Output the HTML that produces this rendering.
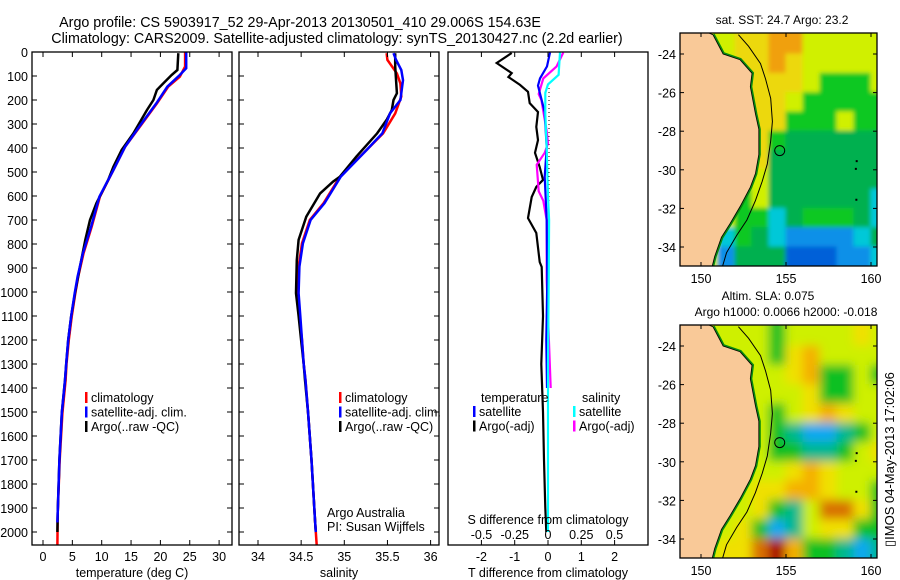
<!DOCTYPE html>
<html><head><meta charset="utf-8">
<style>
html,body{margin:0;padding:0;background:#fff;}
svg{display:block;font-family:"Liberation Sans",sans-serif;}
text{fill:#000;}
</style></head>
<body>
<svg id="fig" width="900" height="580" viewBox="0 0 900 580" xmlns="http://www.w3.org/2000/svg">
<defs>
<filter id="blurA" x="-5%" y="-5%" width="110%" height="110%"><feGaussianBlur stdDeviation="2"/></filter>
<filter id="blurB" x="-5%" y="-5%" width="110%" height="110%"><feGaussianBlur stdDeviation="5"/></filter>
</defs>
<text x="300" y="27" font-size="14.3" text-anchor="middle">Argo profile: CS 5903917_52 29-Apr-2013 20130501_410 29.006S 154.63E</text>
<text x="337" y="43" font-size="14.3" text-anchor="middle">Climatology: CARS2009. Satellite-adjusted climatology: synTS_20130427.nc (2.2d earlier)</text>
<g id="g1"></g>
<g id="g2"></g>
<g id="g3"></g>
<g id="g4"></g>
<g id="g5"></g>
<text transform="translate(894,547) rotate(-90)" font-size="13">▯IMOS 04-May-2013 17:02:06</text>
</svg>
<script>
// ---- profile data (depth m) ----
const tArgoD = [5,75,96,131,158,200,242,339,408,478,533,630,700,783,894,1005,1100,1200,1300,1367,1504,1700,1922,2000];
const tArgoV = [23.05,22.9,21.9,20.5,19.4,18.8,17.7,15.4,13.4,12.0,11.1,9.1,8.0,7.2,6.3,5.45,4.8,4.3,3.95,3.75,3.2,2.8,2.5,2.45];
const tClimD = [0,61,103,144,214,311,394,492,603,728,839,936,1005,1100,1200,1300,1367,1504,1700,1922,2054];
const tClimV = [24.2,24.2,23.3,21.35,19.4,16.5,14.0,12.0,9.7,8.3,6.9,6.0,5.5,4.9,4.4,4.0,3.85,3.3,2.85,2.5,2.45];
const tSatD = [0,68,96,144,214,311,394,492,603,728,839,936,1005,1100,1200,1300,1367,1504,1700,1922,1960];
const tSatV = [24.4,24.4,23.3,21.2,19.3,16.4,14.0,12.0,9.6,8.2,6.8,5.9,5.4,4.8,4.3,3.95,3.75,3.2,2.8,2.5,2.45];
const sArgoD = [5,61,172,200,242,283,339,436,519,540,589,686,783,867,1005,1100,1200,1300,1367,1504,1700,1950,2000];
const sArgoV = [35.59,35.59,35.61,35.57,35.55,35.49,35.38,35.14,34.95,34.87,34.72,34.56,34.47,34.45,34.44,34.47,34.5,34.53,34.545,34.58,34.62,34.66,34.67];
const sClimD = [5,33,89,131,186,256,339,408,519,630,700,797,894,1005,1100,1200,1300,1367,1504,1700,1950,2054];
const sClimV = [35.49,35.5,35.61,35.65,35.66,35.59,35.45,35.26,34.95,34.76,34.6,34.51,34.47,34.46,34.48,34.51,34.53,34.55,34.58,34.62,34.66,34.68];
const sSatD = [5,33,75,117,200,256,339,408,519,630,700,797,894,1005,1100,1200,1300,1367,1504,1700,1950,2000];
const sSatV = [35.57,35.6,35.66,35.68,35.65,35.53,35.44,35.26,34.96,34.77,34.61,34.52,34.48,34.47,34.49,34.51,34.53,34.55,34.58,34.62,34.66,34.67];
// differences
const dTArgoD = [4,46,88,104,137,166,213,250,312,367,420,479,533,562,604,692,754,875,896,1100,1300,1500,1700,1900,2000];
const dTArgoV = [-1.09,-1.54,-1.09,-1.19,-0.84,-0.6,-0.55,-0.3,-0.35,-0.3,-0.39,-0.25,-0.15,-0.35,-0.49,-0.6,-0.35,-0.25,-0.19,-0.15,-0.2,-0.15,-0.12,-0.08,-0.05];
const dTSatD = [2,60,110,140,250,400,520,700,950,1200,1400];
const dTSatV = [0.06,-0.03,-0.24,-0.3,-0.1,-0.04,-0.1,-0.04,-0.02,-0.05,-0.03];
const dSArgoD = [2,60,110,175,200,330,380,420,470,580,620,700,950,1100,1400];
const dSArgoV = [0.115,0.065,-0.035,-0.07,-0.05,-0.01,0.0,-0.025,-0.085,-0.07,-0.035,-0.01,-0.01,0.0,0.02];
const dSSatD = [2,95,135,170,260,400,600,700,950,1300,1700,2000];
const dSSatV = [0.09,0.08,0.0,-0.02,-0.02,-0.01,0.0,0.008,0.005,0.0,0.0,0.0];
const tTicks = [0,5,10,15,20,25,30];
const sTicks = [34,34.5,35,35.5,36];
const sTickLabels = ["34","34.5","35","35.5","36"];
const dTTicks = [-2,-1,0,1,2];
const dSTicks = [-0.5,-0.25,0,0.25,0.5];
const dSTickLabels = ["-0.5","-0.25","0","0.25","0.5"];
const depthTicks = [0,100,200,300,400,500,600,700,800,900,1000,1100,1200,1300,1400,1500,1600,1700,1800,1900,2000];
// ---- map data: rows lat -23..-34 (1 deg), cols lon 149..160 ----
const sstGrid = [
 "LLLYYOOLLLLL","LLLYYOYLLLLL","LLLYYYYLGGGL","LLLYYYLGGGGG","LLLYYYGGGLGG","LLLYYGTTTTTT",
 "LLLYYTTTTTTT","LLLLLTTTTTTT","LLLGLTTTTTTC","LLLGGCTGGGTC","LLCGTCBBBBCT","LLBTTTDDDBBC"];
const slaGrid = [
 "LLLLLGLLLLYL","LLLLLGYOLLLL","LLLLLLYOGGLG","LLLLLLLYGGLL","LLLLLGLYOYLL","LLLLLGTCCTGL",
 "LLLLLGGTTGLY","LLLLLLYOYLLL","LLLLYYOOYLLG","LLLLYGTLRRYG","LLLYGCTLYYGG","LLYYRKOGGTCT"];
const sstColors = {O:"#f0a010",Y:"#ecd808",L:"#d0f000",G:"#10c820",T:"#00b050",C:"#00c8d8",B:"#0890e8",D:"#0060d8"};
const slaColors = {O:"#f4b000",R:"#d87000",K:"#a80000",Y:"#f0e000",L:"#cef000",G:"#10c020",T:"#00b890",C:"#10a8f0"};
const coastLon = [150.7,151.3,152.3,153.0,152.9,153.2,153.4,153.4,153.2,152.9,152.3,151.7,151.2,150.8,150.6];
const coastLat = [-23.0,-24.0,-24.3,-25.0,-25.7,-27.1,-27.9,-29.2,-30.2,-30.9,-31.9,-32.8,-33.5,-34.5,-35.2];
const contourLon = [152.2,152.8,153.5,153.8,154.1,154.2,154.1,153.9,153.6,153.2,152.7,152.1,151.5,151.2];
const contourLat = [-23.0,-23.6,-24.5,-25.3,-26.3,-27.5,-28.5,-29.7,-30.6,-31.6,-32.6,-33.4,-34.3,-35.2];
const mapLonTicks = [150,155,160];
const mapLatTicks = [-24,-26,-28,-30,-32,-34];
const argoLon = 154.63, argoLat = -29.006;
const islandLon = [159.1,159.05,159.08], islandLat = [-29.5,-29.9,-31.5];

const NS="http://www.w3.org/2000/svg";
function mk(parent,tag,attrs,name){const e=document.createElementNS(NS,tag);for(const k in attrs)e.setAttribute(k,attrs[k]);


parent.appendChild(e);return e;}
function txt(parent,x,y,s,size,anchor,name){const t=mk(parent,'text',{x:x,y:y,'font-size':size,'text-anchor':anchor||'start'},name);t.textContent=s;return t;}
const yD = d => 52 + 0.24*d;
const PB = 545;

function frame(g,x0,x1,y0,y1,name){mk(g,'rect',{x:x0,y:y0,width:x1-x0,height:y1-y0,fill:'none',stroke:'#000','stroke-width':1.3},name);}
function line(g,D,V,xf,color,name,w){const p=D.map((d,i)=>xf(V[i]).toFixed(1)+','+yD(d).toFixed(1)).join(' ');
mk(g,'polyline',{points:p,fill:'none',stroke:color,'stroke-width':w||2.5,'stroke-linejoin':'miter'},name);}
function depthTicksDraw(g,x0,x1,labels){depthTicks.forEach(d=>{const y=yD(d);
mk(g,'line',{x1:x0,y1:y,x2:x0+5,y2:y,stroke:'#000'},'depth-tick');
mk(g,'line',{x1:x1,y1:y,x2:x1-5,y2:y,stroke:'#000'},'depth-tick');
if(labels)txt(g,28,y+5,String(d),12.5,'end','depth-tick-label');});}
function xTicks(g,vals,labels,xf,y0,y1,ly){vals.forEach((v,i)=>{const x=xf(v);
mk(g,'line',{x1:x,y1:y1,x2:x,y2:y1-5,stroke:'#000'},'x-tick');
mk(g,'line',{x1:x,y1:y0,x2:x,y2:y0+5,stroke:'#000'},'x-tick');
if(ly)txt(g,x,ly,labels[i],12.5,'middle','x-tick-label');});}
function legend(g,x,y,items,name){items.forEach((it,i)=>{const yy=y+i*14.5;
mk(g,'rect',{x:x,y:yy-10,width:2.5,height:11,fill:it[1]},name+'-swatch');
txt(g,x+6,yy,it[0],12.5,'start',name+'-label');});}

// Panel 1
const g1=document.getElementById('g1');
const xT = t => 43 + 5.87*t;
line(g1,tClimD,tClimV,xT,'#ff0000','climatology-temp-line');
line(g1,tArgoD,tArgoV,xT,'#000000','argo-temp-line');
line(g1,tSatD,tSatV,xT,'#0000ff','satellite-temp-line');
frame(g1,32,232,52,PB,'temperature-axes');
depthTicksDraw(g1,32,232,true);
xTicks(g1,tTicks,tTicks.map(String),xT,52,PB,561);
txt(g1,132,577,'temperature (deg C)',12.5,'middle','x-axis-title-temperature');
legend(g1,85,402,[['climatology','#f00'],['satellite-adj. clim.','#00f'],['Argo(..raw -QC)','#000']],'legend-temperature');

// Panel 2
const g2=document.getElementById('g2');
const xS = s => 258 + 86.3*(s-34);
line(g2,sClimD,sClimV,xS,'#ff0000','climatology-salinity-line');
line(g2,sArgoD,sArgoV,xS,'#000000','argo-salinity-line');
line(g2,sSatD,sSatV,xS,'#0000ff','satellite-salinity-line');
frame(g2,239,439,52,PB,'salinity-axes');
depthTicksDraw(g2,239,439,false);
xTicks(g2,sTicks,sTickLabels,xS,52,PB,561);
txt(g2,339,577,'salinity',12.5,'middle','x-axis-title-salinity');
legend(g2,339,402,[['climatology','#f00'],['satellite-adj. clim.','#00f'],['Argo(..raw -QC)','#000']],'legend-salinity');
txt(g2,327,517,'Argo Australia',12.5,'start','argo-australia-label');
txt(g2,327,531,'PI: Susan Wijffels',12.5,'start','pi-label');

// Panel 3
const g3=document.getElementById('g3');
const xTd = v => 548 + 33.3*v;
const xSd = v => 548 + 133*v;
mk(g3,'line',{x1:xTd(0)+1,y1:yD(150),x2:xTd(0)+1,y2:yD(650),stroke:'#000','stroke-dasharray':'1,3'},'zero-line');
line(g3,dTArgoD,dTArgoV,xTd,'#000','argo-temp-diff-line',2.2);
line(g3,dSArgoD,dSArgoV,xSd,'#ff00ff','argo-sal-diff-line',2.2);
line(g3,dTSatD,dTSatV,xTd,'#0000ff','sat-temp-diff-line',2.2);
line(g3,dSSatD,dSSatV,xSd,'#00ffff','sat-sal-diff-line',2.2);
frame(g3,448,648,52,PB,'difference-axes');
xTicks(g3,dTTicks,dTTicks.map(String),xTd,52,PB,561);
dSTicks.forEach((v,i)=>{txt(g3,xSd(v),539,dSTickLabels[i],12.5,'middle','s-diff-tick-label');});
txt(g3,548,524,'S difference from climatology',12.5,'middle','s-diff-axis-title');
txt(g3,548,577,'T difference from climatology',12.5,'middle','t-diff-axis-title');
txt(g3,481,402,'temperature',12.5,'start','legend-temperature-heading');
txt(g3,582,402,'salinity',12.5,'start','legend-salinity-heading');
legend(g3,473,416,[['satellite','#00f'],['Argo(-adj)','#000']],'legend-temp-diff');
legend(g3,573,416,[['satellite','#0ff'],['Argo(-adj)','#f0f']],'legend-sal-diff');

// Maps
function drawMap(g,top,grid,colors,titles,id,blur){
  const L=680,R=877,B=top+233;
  const mx = lon => 701 + 17*(lon-150);
  const my = lat => top + 21 + 19.3*(-24-lat);
  const cp=mk(g,'clipPath',{id:'clip'+id},'map-clip');
  mk(cp,'rect',{x:L,y:top,width:R-L,height:B-top},'clip-rect');
  const inner=mk(g,'g',{'clip-path':'url(#clip'+id+')'},'map-body');
  mk(inner,'rect',{x:L,y:top,width:R-L,height:B-top,fill:colors.L},'map-background');
  const cells=mk(inner,'g',{filter:'url(#'+blur+')'},'map-cells');
  grid.forEach((row,r)=>{for(let c=0;c<row.length;c++){
    const lon=149+c, lat=-23-r;
    let x0=mx(lon), w=17;
    if(c===row.length-1) w=40;
    if(c===0){x0-=20; w+=20;}
    const y0 = r===0 ? top-20 : my(lat);
    const y1 = r===grid.length-1 ? B+20 : my(lat-1);
    mk(cells,'rect',{x:x0-0.5,y:y0-0.5,width:w+1,height:y1-y0+1,fill:colors[row[c]]},'map-cell');}});
  const pts=coastLon.map((v,i)=>mx(v).toFixed(1)+','+my(coastLat[i]).toFixed(1));
  mk(inner,'polyline',{points:pts.join(' '),fill:'none',stroke:'#0a8a10','stroke-width':4},'coast-fringe');
  mk(inner,'polygon',{points:mx(148)+','+my(-22)+' '+pts.join(' ')+' '+mx(148)+','+my(-36),fill:'#f9c998',stroke:'#000','stroke-width':0.8},'land');
  const cps=contourLon.map((v,i)=>mx(v).toFixed(1)+','+my(contourLat[i]).toFixed(1));
  mk(inner,'polyline',{points:cps.join(' '),fill:'none',stroke:'#000','stroke-width':1},'depth-contour');
  islandLon.forEach((v,i)=>mk(inner,'rect',{x:mx(v),y:my(islandLat[i]),width:2,height:2,fill:'#000'},'island'));
  mk(inner,'circle',{cx:mx(argoLon),cy:my(argoLat),r:5,fill:'none',stroke:'#000','stroke-width':1},'argo-location-marker');
  mk(g,'rect',{x:L,y:top,width:R-L,height:B-top,fill:'none',stroke:'#000','stroke-width':1.3},'map-frame');
  mapLonTicks.forEach(v=>{const x=mx(v);
    mk(g,'line',{x1:x,y1:B,x2:x,y2:B-4,stroke:'#000'},'lon-tick');
    mk(g,'line',{x1:x,y1:top,x2:x,y2:top+4,stroke:'#000'},'lon-tick');
    txt(g,x,B+17,String(v),12.5,'middle','lon-tick-label');});
  mapLatTicks.forEach(v=>{const y=my(v);
    mk(g,'line',{x1:L,y1:y,x2:L+4,y2:y,stroke:'#000'},'lat-tick');
    mk(g,'line',{x1:R,y1:y,x2:R-4,y2:y,stroke:'#000'},'lat-tick');
    txt(g,L-4,y+5,String(v),12.5,'end','lat-tick-label');});
  titles.forEach((t,i)=>txt(g,t[1],t[2],t[0],12,'middle','map-title'));
}
drawMap(document.getElementById('g4'),33,sstGrid,sstColors,[['sat. SST: 24.7 Argo: 23.2',782,24]],'a','blurA');
drawMap(document.getElementById('g5'),325,slaGrid,slaColors,[['Altim. SLA: 0.075',768,300],['Argo h1000: 0.0066 h2000: -0.018',786,316]],'b','blurB');
</script>
</body></html>
